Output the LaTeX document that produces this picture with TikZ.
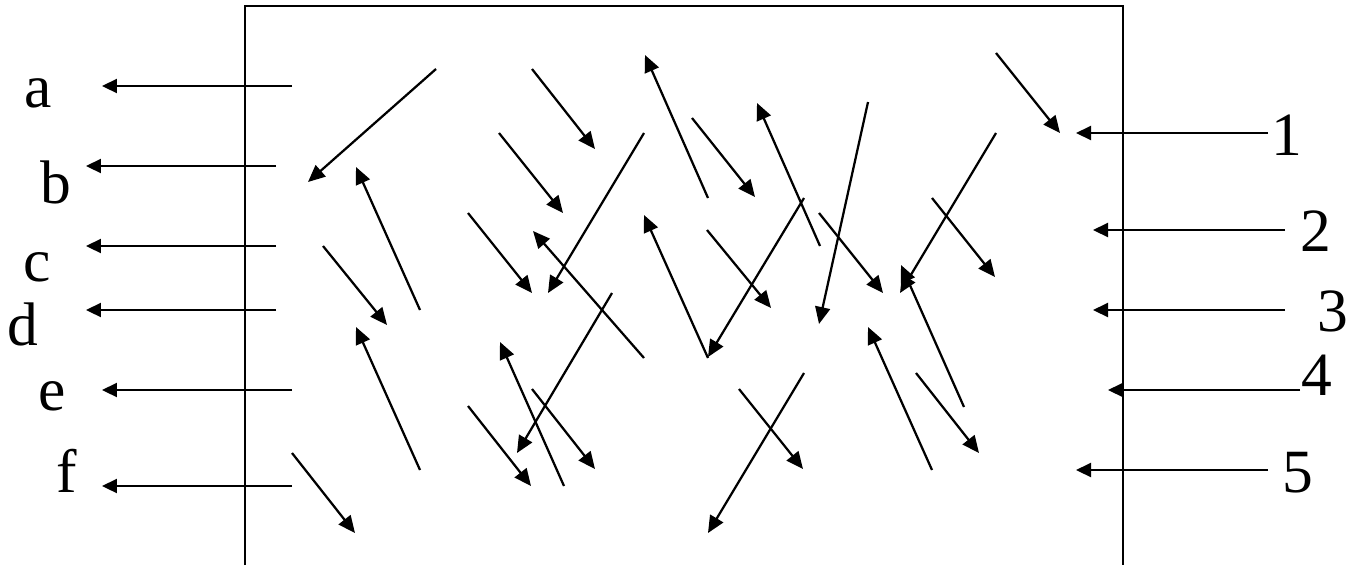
\documentclass[tikz,border=0pt]{standalone}
\usepackage{fontspec}
\setmainfont{Liberation Serif}
\usetikzlibrary{arrows.meta}
\tikzset{
  framepath/.style={line width=0.055cm},
  fieldarrow/.style={-{Triangle[length=0.34cm,width=0.3cm]},line width=0.045cm},
  portarrow/.style={-{Triangle[length=0.3cm,width=0.28cm]},line width=0.045cm},
  portlabel/.style={font=\fontsize{35}{40}\selectfont,inner sep=0pt,anchor=base}
}

\begin{document}
\begin{tikzpicture}[x=0.02cm,y=-0.02cm]
  \useasboundingbox (0,0) rectangle (1354,565);
  % open box
  \draw[framepath] (245,565) -- (245,6) -- (1123,6) -- (1123,565);
  % outputs on the left
  \foreach \lbl/\xs/\xt/\ya/\xl/\yl in {a/292/102/86/38/107, b/276/86/166/56/203,
      c/276/86/246/37/281, d/276/86/310/23/345, e/292/102/390/52/410, f/292/102/486/67/492} {
    \node[portlabel] (\lbl) at (\xl,\yl) {\lbl};
    \coordinate (\lbl-tail) at (\xs,\ya);
    \coordinate (\lbl-head) at (\xt,\ya);
    \draw[portarrow] (\lbl-tail) -- (\lbl-head);
  }
  % inputs on the right
  \foreach \lbl/\xs/\xt/\ya/\xl/\yl in {1/1268/1076/133/1287/155, 2/1285/1093/230/1316/251,
      3/1285/1093/310/1333/331, 4/1300/1108/390/1317/395, 5/1268/1076/470/1298/492} {
    \node[portlabel] (n\lbl) at (\xl,\yl) {\lbl};
    \coordinate (n\lbl-tail) at (\xs,\ya);
    \coordinate (n\lbl-head) at (\xt,\ya);
    \draw[portarrow] (n\lbl-tail) -- (n\lbl-head);
  }
  % scattered field inside the box
  \foreach \xa/\ya/\xb/\yb [count=\k] in {436/69/308/182, 532/69/595/149, 708/198/645/55,
      420/310/356/167, 499/133/563/213, 644/133/548/293, 468/213/532/293, 644/358/533/231,
      708/358/644/215, 323/246/387/325, 692/118/755/197, 820/246/757/103, 868/102/819/324,
      804/198/708/357, 707/230/771/308, 819/213/883/293, 996/133/900/293, 996/53/1060/133,
      932/198/995/277, 964/407/901/265, 804/373/708/533, 739/389/803/469, 932/470/868/327,
      916/373/979/453, 420/470/356/327, 292/453/355/533, 468/406/531/486, 564/486/500/342,
      532/389/595/469, 612/293/517/453} {
    \coordinate (v\k-tail) at (\xa,\ya);
    \coordinate (v\k-head) at (\xb,\yb);
    \draw[fieldarrow] (v\k-tail) -- (v\k-head);
  }
\end{tikzpicture}
\end{document}
